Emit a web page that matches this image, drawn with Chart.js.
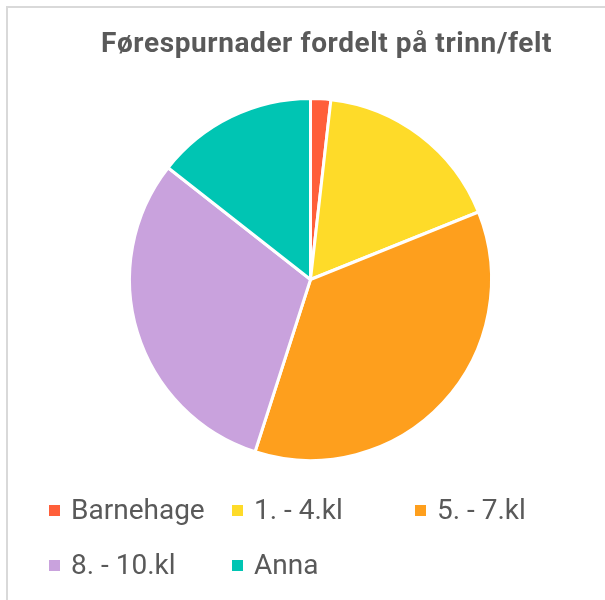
<!DOCTYPE html>
<html>
<head>
<meta charset="utf-8">
<script src="https://cdn.jsdelivr.net/npm/chart.js@4"></script>
<style>
  html, body { margin: 0; padding: 0; background: #fff; }
  body { width: 605px; height: 600px; position: relative; overflow: hidden; font-family: Roboto, sans-serif; }
  #card { position: absolute; left: 6px; top: 6px; width: 700px; height: 700px;
          border-left: 2px solid #d9d9d9; border-top: 2px solid #d9d9d9; }
  #chart { position: absolute; left: 0; top: 0; }
  #title { position: absolute; left: 0; width: 653px; top: 26px; text-align: center; white-space: nowrap;
           font-weight: bold; font-size: 28px; color: #595959; letter-spacing: 0.6px; }
  #legend { position: absolute; left: 49px; top: 489px; display: grid;
            grid-template-columns: 183px 183px 183px; grid-auto-rows: 55px; }
  .item { display: flex; align-items: center; font-size: 28px; color: #595959; height: 40px; white-space: nowrap; }
  .box { width: 11px; height: 11px; margin-right: 11px; margin-top: 2px; flex: none; }
</style>
</head>
<body>
<div id="card"></div>
<canvas id="chart" width="605" height="600"></canvas>
<div id="title">Førespurnader fordelt på trinn/felt</div>
<div id="legend"></div>
<script>
const categories = ['Barnehage', '1. - 4.kl', '5. - 7.kl', '8. - 10.kl', 'Anna'];
const counts = [2, 19, 40, 34, 16];
const colors = ['#ff5f3a', '#fedb29', '#fe9f1d', '#c9a2dd', '#00c5b3'];

const ctx = document.getElementById('chart').getContext('2d');
const chart = new Chart(ctx, {
    type: 'pie',
    data: {
        labels: categories,
        datasets: [{
            label: 'Førespurnader',
            data: counts,
            backgroundColor: colors,
            borderColor: '#ffffff',
            borderWidth: 3,
            hoverOffset: 0,
            offset: 0,
        }],
    },
    options: {
        responsive: false,
        animation: false,
        layout: { padding: { left: 128, right: 112, top: 97, bottom: 138 } },
        plugins: {
            legend: { display: false },
            title: { display: false },
            tooltip: { enabled: false },
        },
    },
});

// legend built from the chart's own labels
const legendEl = document.getElementById('legend');
chart.options.plugins.legend.labels.generateLabels(chart).forEach(item => {
    const div = document.createElement('div');
    div.className = 'item';
    const box = document.createElement('span');
    box.className = 'box';
    box.style.background = item.fillStyle;
    div.appendChild(box);
    div.appendChild(document.createTextNode(item.text));
    legendEl.appendChild(div);
});
</script>
</body>
</html>
